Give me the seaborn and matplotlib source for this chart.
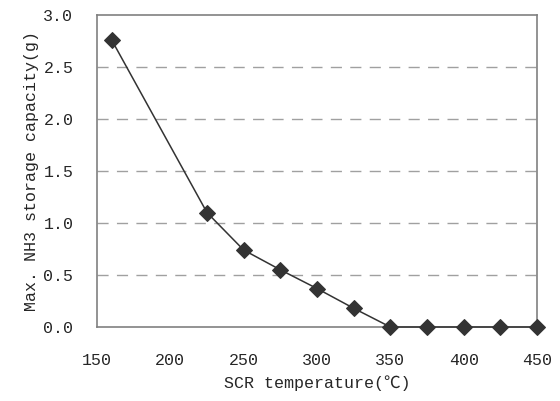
import matplotlib
matplotlib.use("Agg")
import matplotlib.pyplot as plt
import seaborn as sns
import pandas as pd

temperature = [160, 225, 250, 275, 300, 325, 350, 375, 400, 425, 450]
capacity = [2.76, 1.10, 0.74, 0.55, 0.37, 0.18, 0.0, 0.0, 0.0, 0.0, 0.0]
xticks = [150, 200, 250, 300, 350, 400, 450]
yticks = [0.0, 0.5, 1.0, 1.5, 2.0, 2.5, 3.0]

sns.set_style("white")
fam = ['Liberation Mono', 'Noto Sans CJK SC']
plt.rcParams['font.family'] = fam

df = pd.DataFrame({"t": temperature, "c": capacity})

fig = plt.figure(figsize=(5.6, 4.01), dpi=100)
ax = fig.add_axes([97/560, 1 - 327/401, 440/560, 312/401])

for y in yticks[1:-1]:
    ax.axhline(y, color="#a0a0a0", lw=1, ls=(0, (8, 6)), zorder=0)

sns.lineplot(data=df, x="t", y="c", ax=ax, color="#333333", lw=1.1,
             marker="D", markersize=8, markeredgecolor="#333333",
             markerfacecolor="#333333", clip_on=False, zorder=3)

ax.set_xlim(150, 450)
ax.set_ylim(0, 3.0)
ax.set_xticks(xticks)
ax.set_yticks(yticks)
ax.set_xticklabels([str(v) for v in xticks])
ax.set_yticklabels([f"{v:.1f}" for v in yticks])
ax.tick_params(axis="x", direction="in", length=6, color="#808080", pad=19, labelsize=12)
ax.tick_params(axis="y", length=0, pad=17, labelsize=12)
for s in ax.spines.values():
    s.set_color("#808080")
    s.set_linewidth(1.2)

ax.set_xlabel("SCR temperature(℃)", fontsize=12, family=fam, labelpad=5)
ax.set_ylabel("Max. NH3 storage capacity(g)", fontsize=12, family=fam, labelpad=3)

fig.savefig("out.png", dpi=100)
